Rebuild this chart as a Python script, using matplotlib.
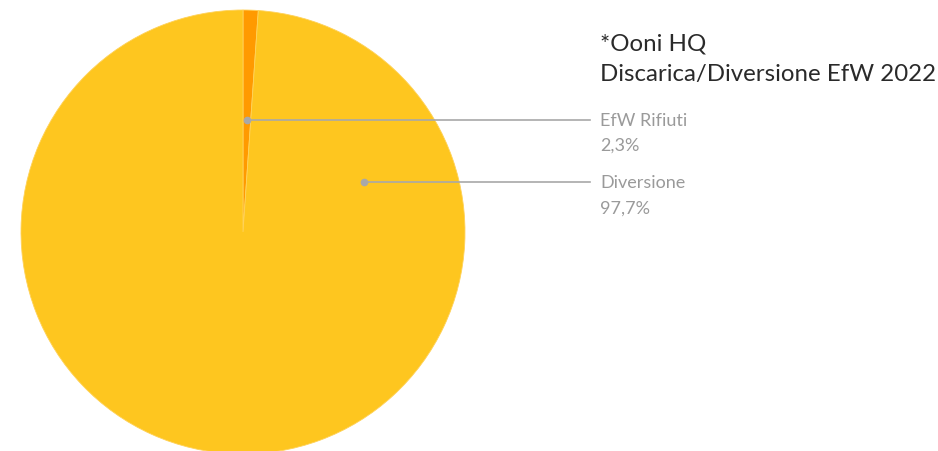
import matplotlib.pyplot as plt
import numpy as np

plt.rcParams['font.family'] = ['Lato', 'DejaVu Sans']

# slice labels and the shares printed next to them
labels = ['EfW Rifiuti', 'Diversione']
pct_text = ['2,3%', '97,7%']
# wedge sizes as drawn in the picture
sizes = [1.1, 98.9]
colors = ['#FF9A00', '#FEC61F']
title_lines = ['*Ooni HQ', 'Discarica/Diversione EfW 2022']

fig = plt.figure(figsize=(9.38, 4.51), dpi=100)
ax = fig.add_axes([21 / 938, -3 / 451, 444 / 938, 444 / 451])
wedges, _ = ax.pie(sizes, colors=colors, startangle=90, counterclock=False,
                   radius=1, wedgeprops=dict(edgecolor='#FFD25A', linewidth=0.6))
ax.set_xlim(-1, 1)
ax.set_ylim(-1, 1)
ax.set_aspect('equal')
ax.axis('off')

# leader anchors (radius, angle in degrees)
anchors = [(0.505, 88.0), (0.59, 22.3)]
line_end_x = 1.563
text_x = 600 / 938
for (r, a), lab, pct in zip(anchors, labels, pct_text):
    x0 = r * np.cos(np.radians(a))
    y0 = r * np.sin(np.radians(a))
    ax.plot([x0, line_end_x], [y0, y0], color='#A8A8A8', lw=1.2, clip_on=False)
    ax.plot(x0, y0, 'o', color='#A8A8A8', ms=4.5, clip_on=False)
    # figure y of this line
    ypx = 232 - y0 * 222
    fig.text(text_x, 1 - (ypx + 1) / 451, lab, color='#9A9A9A', fontsize=13,
             va='center', ha='left')
    fig.text(text_x, 1 - (ypx + 26) / 451, pct, color='#9A9A9A', fontsize=13,
             va='center', ha='left')

fig.text(text_x, 1 - 44 / 451, title_lines[0], fontsize=17.3, color='#2A2A2A',
         va='center', ha='left')
fig.text(text_x, 1 - 75 / 451, title_lines[1], fontsize=17.3, color='#2A2A2A',
         va='center', ha='left')

plt.savefig('out.png', dpi=100)
